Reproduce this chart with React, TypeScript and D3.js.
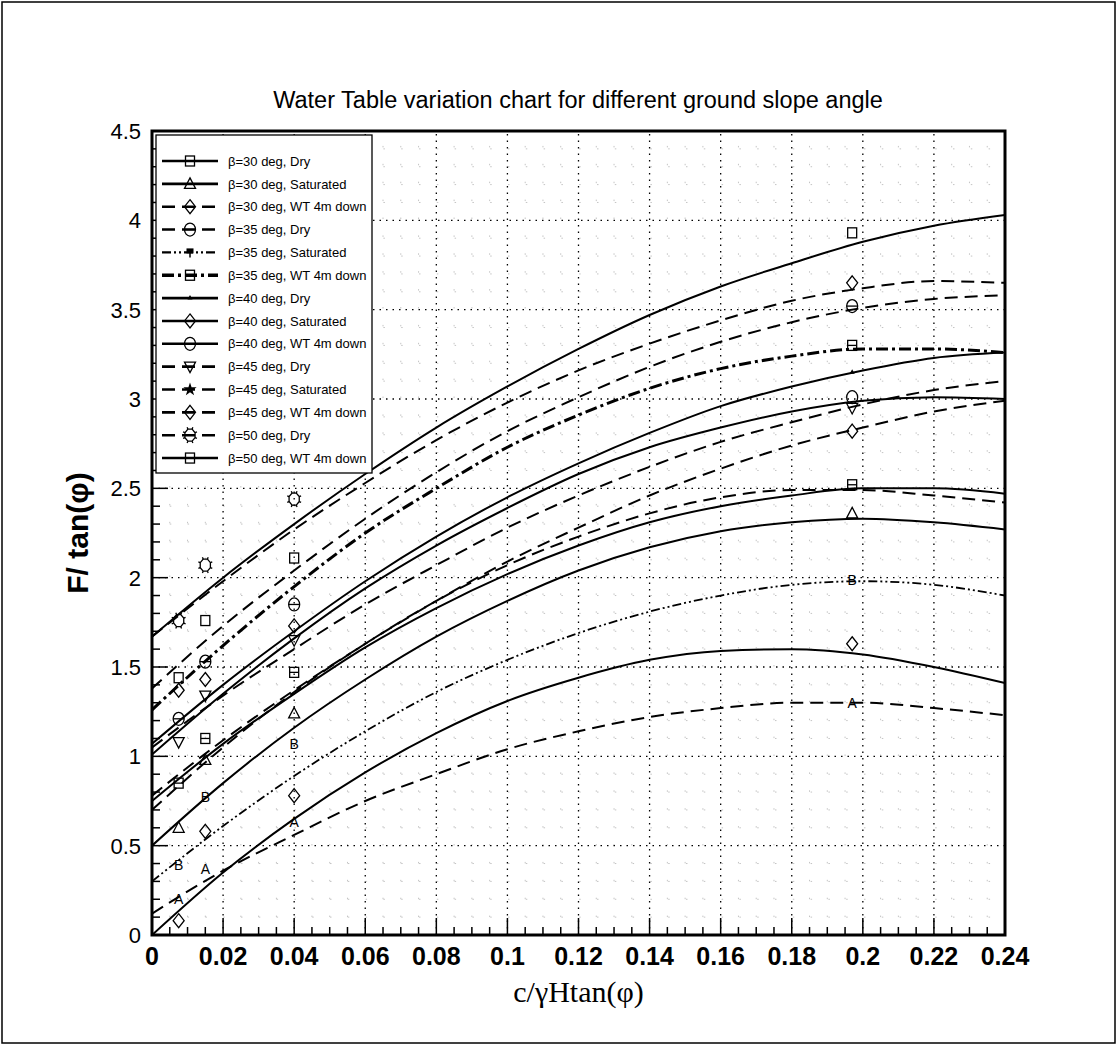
import React, { useEffect, useRef } from "react";
import * as d3 from "d3";

const xs = [0, 0.02, 0.04, 0.06, 0.08, 0.1, 0.12, 0.14, 0.16, 0.18, 0.2, 0.22, 0.24];

const b30Dry = [1.67, 2.0, 2.3, 2.58, 2.84, 3.07, 3.28, 3.47, 3.63, 3.76, 3.88, 3.97, 4.03];
const b30Sat = [0.5, 0.85, 1.16, 1.43, 1.67, 1.87, 2.04, 2.17, 2.26, 2.31, 2.33, 2.31, 2.27];
const b30WT = [1.67, 1.98, 2.27, 2.53, 2.77, 2.98, 3.16, 3.31, 3.44, 3.55, 3.62, 3.66, 3.65];
const b35Dry = [1.38, 1.73, 2.04, 2.33, 2.59, 2.82, 3.01, 3.18, 3.32, 3.43, 3.51, 3.56, 3.58];
const b35Sat = [0.3, 0.61, 0.89, 1.14, 1.36, 1.54, 1.69, 1.81, 1.9, 1.96, 1.98, 1.96, 1.9];
const b35WT = [1.26, 1.62, 1.95, 2.25, 2.5, 2.73, 2.91, 3.06, 3.17, 3.24, 3.28, 3.28, 3.26];
const b40Dry = [1.07, 1.4, 1.7, 1.98, 2.23, 2.45, 2.64, 2.81, 2.96, 3.07, 3.16, 3.23, 3.26];
const b40Sat = [0, 0.35, 0.65, 0.91, 1.13, 1.31, 1.44, 1.54, 1.59, 1.6, 1.57, 1.5, 1.41];
const b40WT = [1.01, 1.35, 1.66, 1.94, 2.18, 2.39, 2.58, 2.73, 2.84, 2.93, 2.99, 3.01, 3.0];
const b45Dry = [1.05, 1.34, 1.6, 1.85, 2.07, 2.28, 2.46, 2.62, 2.76, 2.87, 2.97, 3.05, 3.1];
const b45Sat = [0.12, 0.36, 0.56, 0.75, 0.9, 1.04, 1.14, 1.22, 1.27, 1.3, 1.3, 1.27, 1.23];
const b45WT = [0.78, 1.09, 1.37, 1.63, 1.87, 2.09, 2.28, 2.46, 2.61, 2.74, 2.84, 2.93, 2.99];
const b50Dry = [0.7, 1.05, 1.36, 1.63, 1.87, 2.07, 2.23, 2.36, 2.45, 2.49, 2.49, 2.46, 2.42];
const b50WT = [0.75, 1.07, 1.35, 1.61, 1.83, 2.02, 2.18, 2.31, 2.4, 2.46, 2.5, 2.5, 2.47];

// measured points (symbols) at these x positions
const markX = [0.0075, 0.015, 0.04, 0.197];
const p30Dry = [1.44, 1.76, 2.11, 3.93];
const p30Sat = [0.6, 0.98, 1.24, 2.36];
const p30WT = [1.37, 1.43, 1.73, 3.65];
const p35Dry = [1.21, 1.53, 1.85, 3.52];
const p35Sat = [0.39, 0.77, 1.07, 1.99];
const p35WT = [null, null, null, 3.3];
const p40Dry = [null, null, null, 3.15];
const p40Sat = [0.08, 0.58, 0.78, 1.63];
const p40WT = [null, null, null, 3.01];
const p45Dry = [1.08, 1.34, 1.65, 2.95];
const p45Sat = [0.2, 0.37, 0.63, 1.3];
const p45WT = [null, null, null, 2.82];
const p50Dry = [1.76, 2.07, 2.44, null];
const p50WT = [0.85, 1.1, 1.47, 2.52];

const labels = [
  "β=30 deg, Dry",
  "β=30 deg, Saturated",
  "β=30 deg, WT 4m down",
  "β=35 deg, Dry",
  "β=35 deg, Saturated",
  "β=35 deg, WT 4m down",
  "β=40 deg, Dry",
  "β=40 deg, Saturated",
  "β=40 deg, WT 4m down",
  "β=45 deg, Dry",
  "β=45 deg, Saturated",
  "β=45 deg, WT 4m down",
  "β=50 deg, Dry",
  "β=50 deg, WT 4m down",
];

const xTicks = [0, 0.02, 0.04, 0.06, 0.08, 0.1, 0.12, 0.14, 0.16, 0.18, 0.2, 0.22, 0.24];
const yTicks = [0, 0.5, 1, 1.5, 2, 2.5, 3, 3.5, 4, 4.5];

const W = 1117;
const H = 1045;
const sans = "'Liberation Sans', Arial, sans-serif";
const narrow = "'Liberation Sans Narrow', 'Arial Narrow', 'Liberation Sans', Arial, sans-serif";
const serif = "'Liberation Serif', 'Times New Roman', serif";

const DASH = "13,7";
const DASHDOT = "12,4,3,4";
const DASHDOTDOT = "9,3,2,3,2,3";

export default function App() {
  const ref = useRef<SVGSVGElement>(null);

  useEffect(() => {
    const svg = d3.select(ref.current);
    svg.selectAll("*").remove();

    const x = d3.scaleLinear().domain([0, 0.24]).range([152, 1005]);
    const y = d3.scaleLinear().domain([0, 4.5]).range([935, 131]);
    const [xa, xb] = x.range();
    const [ya, yb] = y.range();

    const series = [
      { v: b30Dry, p: p30Dry, dash: null, w: 2, sym: "square" },
      { v: b30Sat, p: p30Sat, dash: null, w: 2, sym: "triangle" },
      { v: b30WT, p: p30WT, dash: DASH, w: 2, sym: "diamond" },
      { v: b35Dry, p: p35Dry, dash: DASH, w: 2, sym: "circleLine" },
      { v: b35Sat, p: p35Sat, dash: DASHDOTDOT, w: 1.8, sym: "B" },
      { v: b35WT, p: p35WT, dash: DASHDOT, w: 3, sym: "squareLine" },
      { v: b40Dry, p: p40Dry, dash: null, w: 2, sym: "tiny" },
      { v: b40Sat, p: p40Sat, dash: null, w: 2, sym: "diamond" },
      { v: b40WT, p: p40WT, dash: null, w: 2, sym: "circle" },
      { v: b45Dry, p: p45Dry, dash: DASH, w: 2, sym: "invTriangle" },
      { v: b45Sat, p: p45Sat, dash: DASH, w: 2, sym: "A" },
      { v: b45WT, p: p45WT, dash: DASH, w: 2, sym: "diamond" },
      { v: b50Dry, p: p50Dry, dash: DASH, w: 2, sym: "octagon" },
      { v: b50WT, p: p50WT, dash: null, w: 2, sym: "squareLine" },
    ];

    // page frame
    svg
      .append("rect")
      .attr("x", 2)
      .attr("y", 2)
      .attr("width", W - 4)
      .attr("height", H - 4)
      .attr("fill", "white")
      .attr("stroke", "black")
      .attr("stroke-width", 1.5);

    svg
      .append("text")
      .attr("x", 578)
      .attr("y", 108)
      .attr("text-anchor", "middle")
      .attr("font-family", sans)
      .attr("font-size", 23.5)
      .text("Water Table variation chart for different ground slope angle");

    // minor grid
    const minorX = d3.range(1, 48).filter((i) => i % 4 !== 0).map((i) => i * 0.005);
    const minorY = d3.range(1, 45).filter((i) => i % 5 !== 0).map((i) => i * 0.1);
    const grid = svg.append("g");
    grid
      .selectAll(".mx")
      .data(minorX)
      .enter()
      .append("line")
      .attr("x1", (d) => x(d))
      .attr("x2", (d) => x(d))
      .attr("y1", ya)
      .attr("y2", yb)
      .attr("stroke", "#c4c4c4")
      .attr("stroke-width", 1)
      .attr("stroke-dasharray", "1.5,16.4");
    grid
      .selectAll(".my")
      .data(minorY)
      .enter()
      .append("line")
      .attr("x1", xa)
      .attr("x2", xb)
      .attr("y1", (d) => y(d))
      .attr("y2", (d) => y(d))
      .attr("stroke", "#c4c4c4")
      .attr("stroke-width", 1)
      .attr("stroke-dasharray", "1.5,16.3");

    // major grid
    grid
      .selectAll(".gx")
      .data(xTicks.slice(1, -1))
      .enter()
      .append("line")
      .attr("x1", (d) => x(d))
      .attr("x2", (d) => x(d))
      .attr("y1", ya)
      .attr("y2", yb)
      .attr("stroke", "black")
      .attr("stroke-width", 1.3)
      .attr("stroke-dasharray", "1.5,5");
    grid
      .selectAll(".gy")
      .data(yTicks.slice(1, -1))
      .enter()
      .append("line")
      .attr("x1", xa)
      .attr("x2", xb)
      .attr("y1", (d) => y(d))
      .attr("y2", (d) => y(d))
      .attr("stroke", "black")
      .attr("stroke-width", 1.3)
      .attr("stroke-dasharray", "1.5,5");

    // curves
    svg
      .append("clipPath")
      .attr("id", "plotclip")
      .append("rect")
      .attr("x", xa)
      .attr("y", yb)
      .attr("width", xb - xa)
      .attr("height", ya - yb);

    const line = d3
      .line<number>()
      .x((d, i) => x(xs[i]))
      .y((d) => y(d))
      .curve(d3.curveMonotoneX);

    const curves = svg.append("g").attr("clip-path", "url(#plotclip)");
    series.forEach((s) => {
      curves
        .append("path")
        .attr("d", line(s.v))
        .attr("fill", "none")
        .attr("stroke", "black")
        .attr("stroke-width", s.w)
        .attr("stroke-dasharray", s.dash || null);
    });

    const drawSym = (g, sym, cx, cy) => {
      const k = g.append("g").attr("transform", `translate(${cx},${cy})`);
      const st = (e) => e.attr("fill", "none").attr("stroke", "black").attr("stroke-width", 1.3);
      if (sym === "square") {
        st(k.append("rect").attr("x", -4.5).attr("y", -5).attr("width", 9).attr("height", 10));
      } else if (sym === "squareLine") {
        st(k.append("rect").attr("x", -4.5).attr("y", -5).attr("width", 9).attr("height", 10));
        st(k.append("line").attr("x1", -4.5).attr("x2", 4.5).attr("y1", 0).attr("y2", 0));
      } else if (sym === "triangle") {
        st(k.append("path").attr("d", "M0,-6L5.5,4.5L-5.5,4.5Z"));
      } else if (sym === "invTriangle") {
        st(k.append("path").attr("d", "M-5.5,-4.5L5.5,-4.5L0,6Z"));
      } else if (sym === "diamond") {
        st(k.append("path").attr("d", "M0,-7L5.5,0L0,7L-5.5,0Z"));
      } else if (sym === "circle") {
        st(k.append("ellipse").attr("rx", 5.5).attr("ry", 6.5));
      } else if (sym === "circleLine") {
        st(k.append("ellipse").attr("rx", 5.5).attr("ry", 6.5));
        st(k.append("line").attr("x1", -5.5).attr("x2", 5.5).attr("y1", 0).attr("y2", 0));
      } else if (sym === "octagon") {
        const pts = d3.range(8).map((i) => {
          const a = (Math.PI / 4) * i + Math.PI / 8;
          return [5.5 * Math.cos(a), 6.5 * Math.sin(a)];
        });
        st(k.append("path").attr("d", "M" + pts.join("L") + "Z"));
        d3.range(8).forEach((i) => {
          const a = (Math.PI / 4) * i + Math.PI / 8;
          st(
            k
              .append("line")
              .attr("x1", 5.5 * Math.cos(a))
              .attr("y1", 6.5 * Math.sin(a))
              .attr("x2", 7.5 * Math.cos(a))
              .attr("y2", 8.5 * Math.sin(a))
          );
        });
      } else if (sym === "tiny") {
        k.append("path").attr("d", "M0,-3L2.5,1.5L-2.5,1.5Z").attr("fill", "black");
      } else if (sym === "star") {
        k.append("path").attr("d", d3.symbol(d3.symbolStar, 55)()).attr("fill", "black");
      } else if (sym === "club") {
        k.append("rect").attr("x", -3.5).attr("y", -4).attr("width", 7).attr("height", 5).attr("fill", "black");
        k.append("line").attr("x1", 0).attr("x2", 0).attr("y1", 0).attr("y2", 5).attr("stroke", "black").attr("stroke-width", 1.5);
      } else {
        k.append("text")
          .attr("text-anchor", "middle")
          .attr("dy", "0.36em")
          .attr("font-family", sans)
          .attr("font-size", 14)
          .text(sym);
      }
    };

    const marks = svg.append("g");
    series.forEach((s) => {
      s.p.forEach((v, i) => {
        if (v === null) return;
        drawSym(marks, s.sym, x(markX[i]), y(v));
      });
    });

    // axes frame and ticks
    const ax = svg.append("g");
    ax.append("rect")
      .attr("x", xa)
      .attr("y", yb)
      .attr("width", xb - xa)
      .attr("height", ya - yb)
      .attr("fill", "none")
      .attr("stroke", "black")
      .attr("stroke-width", 3);

    ax.selectAll(".tx")
      .data(d3.range(1, 48))
      .enter()
      .append("line")
      .attr("x1", (i) => x(i * 0.005))
      .attr("x2", (i) => x(i * 0.005))
      .attr("y1", ya)
      .attr("y2", (i) => ya - (i % 4 === 0 ? 17 : 8))
      .attr("stroke", "black")
      .attr("stroke-width", 1.5);
    ax.selectAll(".ty")
      .data(d3.range(1, 45))
      .enter()
      .append("line")
      .attr("y1", (i) => y(i * 0.1))
      .attr("y2", (i) => y(i * 0.1))
      .attr("x1", xa)
      .attr("x2", (i) => xa + (i % 5 === 0 ? 16 : 8))
      .attr("stroke", "black")
      .attr("stroke-width", 1.5);

    ax.selectAll(".lx")
      .data(xTicks)
      .enter()
      .append("text")
      .attr("x", (d) => x(d))
      .attr("y", 965)
      .attr("text-anchor", "middle")
      .attr("font-family", narrow)
      .attr("font-weight", "bold")
      .attr("font-size", 25)
      .text((d) => String(+d.toFixed(2)));

    ax.selectAll(".ly")
      .data(yTicks)
      .enter()
      .append("text")
      .attr("x", 141)
      .attr("y", (d) => y(d))
      .attr("dy", "0.36em")
      .attr("text-anchor", "end")
      .attr("font-family", sans)
      .attr("font-size", 22)
      .text((d) => String(d));

    svg
      .append("text")
      .attr("transform", `translate(88,${(ya + yb) / 2}) rotate(-90)`)
      .attr("text-anchor", "middle")
      .attr("font-family", sans)
      .attr("font-weight", "bold")
      .attr("font-size", 30)
      .text("F/ tan(φ)");

    svg
      .append("text")
      .attr("x", (xa + xb) / 2)
      .attr("y", 1002)
      .attr("text-anchor", "middle")
      .attr("font-family", serif)
      .attr("font-size", 30)
      .text("c/γHtan(φ)");

    // legend
    const lg = svg.append("g");
    lg.append("rect")
      .attr("x", 156)
      .attr("y", 135)
      .attr("width", 216)
      .attr("height", 338)
      .attr("fill", "white")
      .attr("stroke", "black")
      .attr("stroke-width", 1.3);
    series.forEach((s, i) => {
      const ly = 161 + i * 22.85;
      lg.append("line")
        .attr("x1", 162)
        .attr("x2", 218)
        .attr("y1", ly)
        .attr("y2", ly)
        .attr("stroke", "black")
        .attr("stroke-width", s.w + 0.6)
        .attr("stroke-dasharray", s.dash || null);
      const legendSym = s.sym === "A" ? "star" : s.sym === "B" ? "club" : s.sym;
      drawSym(lg, legendSym, 190, ly);
      lg.append("text")
        .attr("x", 228)
        .attr("y", ly)
        .attr("dy", "0.36em")
        .attr("font-family", sans)
        .attr("font-size", 13)
        .text(labels[i]);
    });
  }, []);

  return (
    <svg
      ref={ref}
      width={W}
      height={H}
      style={{ position: "absolute", left: 0, top: 0, background: "white" }}
    />
  );
}
